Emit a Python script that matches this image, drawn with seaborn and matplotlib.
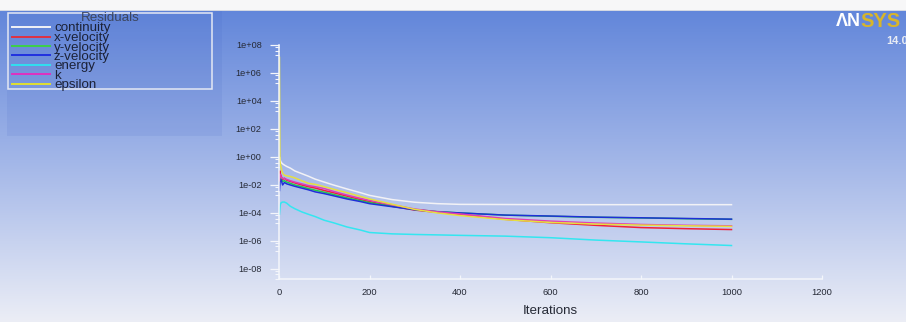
import numpy as np
import pandas as pd
import matplotlib
matplotlib.use("Agg")
import matplotlib.pyplot as plt
from matplotlib.patches import Rectangle
from matplotlib.lines import Line2D
import seaborn as sns

# ---- solver residual history ----
iterations = [1, 2, 3, 5, 8, 12, 17, 25, 35, 50, 65, 80, 100, 120, 150, 180,
              200, 250, 300, 350, 400, 500, 600, 700, 800, 900, 1000]

continuity = [1.0, 0.9, 0.55, 0.4, 0.32, 0.26, 0.21, 0.16, 0.1, 0.065, 0.042,
              0.026, 0.016, 0.01, 0.0052, 0.0028, 0.0018, 9e-4, 5.8e-4, 4.6e-4,
              4.1e-4, 4.0e-4, 3.9e-4, 3.9e-4, 3.9e-4, 3.9e-4, 3.9e-4]
x_velocity = [0.03, 0.1, 0.06, 0.04, 0.025, 0.03, 0.022, 0.018, 0.014, 0.01,
              0.0075, 0.006, 0.004, 0.0028, 0.0016, 9e-4, 6.5e-4, 3e-4, 1.6e-4,
              1.1e-4, 8e-5, 3.5e-5, 2e-5, 1.3e-5, 9e-6, 7.5e-6, 6.5e-6]
y_velocity = [0.01, 0.04, 0.03, 0.025, 0.018, 0.02, 0.016, 0.013, 0.01, 0.0075,
              0.0055, 0.0042, 0.003, 0.0021, 0.0012, 7.5e-4, 5.5e-4, 3e-4,
              1.75e-4, 1.25e-4, 1.0e-4, 7e-5, 5.8e-5, 4.9e-5, 4.4e-5, 3.9e-5, 3.5e-5]
z_velocity = [0.004, 0.015, 0.025, 0.022, 0.01, 0.015, 0.012, 0.01, 0.008, 0.006,
              0.0045, 0.0032, 0.0024, 0.0017, 0.001, 6.5e-4, 4.6e-4, 2.8e-4,
              1.7e-4, 1.2e-4, 1.0e-4, 7e-5, 6e-5, 5e-5, 4.5e-5, 4e-5, 3.6e-5]
energy = [8e-5, 2e-4, 4e-4, 5.5e-4, 6e-4, 6e-4, 5e-4, 3e-4, 2e-4, 1.2e-4, 8e-5,
          5.5e-5, 3e-5, 2e-5, 1e-5, 6e-6, 4e-6, 3.2e-6, 2.9e-6, 2.7e-6, 2.5e-6,
          2.2e-6, 1.7e-6, 1.15e-6, 8.5e-7, 6.2e-7, 4.7e-7]
k = [0.02, 0.06, 0.05, 0.035, 0.03, 0.028, 0.025, 0.02, 0.016, 0.012, 0.009,
     0.0075, 0.0055, 0.0035, 0.0019, 0.0011, 8e-4, 3.8e-4, 1.9e-4, 1.2e-4,
     8.5e-5, 4e-5, 2.6e-5, 1.9e-5, 1.5e-5, 1.3e-5, 1.2e-5]
epsilon = [1.3e7, 0.5, 0.3, 0.15, 0.07, 0.05, 0.045, 0.04, 0.032, 0.02, 0.013,
           0.011, 0.0075, 0.005, 0.0028, 0.0015, 0.001, 4.2e-4, 1.8e-4, 1e-4,
           6.5e-5, 3.3e-5, 2.1e-5, 1.6e-5, 1.35e-5, 1.2e-5, 1.1e-5]

series_names = ["continuity", "x-velocity", "y-velocity", "z-velocity",
                "energy", "k", "epsilon"]
series_values = [continuity, x_velocity, y_velocity, z_velocity, energy, k, epsilon]
line_colors = ["#f2f2f6", "#f0203a", "#22c84a", "#1f2fd8", "#34e6f0", "#e03cb8", "#e6e040"]
legend_colors = ["#f2f2f6", "#e03040", "#3cd048", "#2030e0", "#30e0f0", "#e030c0", "#e0e030"]

x_ticks = [0, 200, 400, 600, 800, 1000, 1200]
y_exponents = [-8, -6, -4, -2, 0, 2, 4, 6, 8]
y_tick_labels = ["1e-08", "1e-06", "1e-04", "1e-02", "1e+00",
                 "1e+02", "1e+04", "1e+06", "1e+08"]

frames = [pd.DataFrame({"Iterations": iterations, "residual": vals, "series": name})
          for name, vals in zip(series_names, series_values)]
df = pd.concat(frames, ignore_index=True)

W, H = 906, 322
fig = plt.figure(figsize=(W / 100, H / 100), dpi=100)

# ---- graphics window background ----
bg = fig.add_axes([0, 0, 1, 1])
bg.set_xlim(0, W)
bg.set_ylim(H, 0)
bg.set_axis_off()
stops_y = [10, 160, 322]
stops_c = np.array([[98, 134, 218], [162, 182, 232], [236, 238, 246]]) / 255.0
rows = np.arange(H)
grad = np.stack([np.interp(rows, stops_y, stops_c[:, i]) for i in range(3)], axis=1)
img = np.repeat(grad[:, None, :], 2, axis=1)
bg.imshow(img, extent=[0, W, H, 0], aspect="auto", interpolation="bilinear")
bg.add_patch(Rectangle((0, 0), W, 10, color="#f7f7f8", lw=0))
bg.add_patch(Rectangle((0, 10), W, 1, color="#d4d8e2", lw=0))
bg.add_patch(Rectangle((7, 11), 215, 125, color="#3a5cc0", alpha=0.10, lw=0))

# legend box
bg.add_patch(Rectangle((8, 13), 204, 76, fill=False, edgecolor="#e4e8f4", lw=1.1))
bg.text(110, 18, "Residuals", ha="center", va="center", fontsize=9.6,
        color="#3c4660", family="Liberation Sans")
legend_y = [26.7, 36.5, 46.3, 55.3, 64.8, 74.2, 83.5]
for name, col, ly in zip(series_names, legend_colors, legend_y):
    bg.add_line(Line2D([12, 50], [ly, ly], color=col, lw=1.4))
    bg.text(54, ly + 1.5, name, ha="left", va="center", fontsize=9.6,
            color="#1c2238", family="Liberation Sans")

# logo
bg.text(836, 21, "ΛN", ha="left", va="center", fontsize=13, fontweight="bold",
        color="#ffffff", family="Liberation Sans")
bg.text(860, 21, "SYS", ha="left", va="center", fontsize=14.5, fontweight="bold",
        color="#d8b52a", family="Liberation Sans")
bg.text(886, 41, "14.0", ha="left", va="center", fontsize=8, fontweight="bold",
        color="#e8ecf4", family="Liberation Sans")

# ---- residual plot ----
left, right = 279 / W, 822 / W
bottom, top = 1 - 278.7 / H, 1 - 45 / H
ax = fig.add_axes([left, bottom, right - left, top - bottom])
ax.set_facecolor("none")

sns.lineplot(data=df, x="Iterations", y="residual", hue="series",
             hue_order=series_names, palette=dict(zip(series_names, line_colors)),
             sort=False, estimator=None, legend=False, lw=1.1, ax=ax)

ax.set_yscale("log")
ax.set_xlim(0, 1200)
ax.set_ylim(1e-8, 1e8)
ax.set_xticks(x_ticks)
ax.set_xticklabels([str(t) for t in x_ticks])
ax.set_yticks([10.0 ** e for e in y_exponents])
ax.set_yticklabels(y_tick_labels)
ax.set_yticks([m * 10.0 ** e for e in y_exponents for m in (0.7, 0.4, 0.2)], minor=True)
ax.set_xticks([], minor=True)

for side in ("top", "right"):
    ax.spines[side].set_visible(False)
for side in ("left", "bottom"):
    ax.spines[side].set_color("#f4f6fb")
    ax.spines[side].set_linewidth(1.1)

ax.tick_params(axis="y", which="major", direction="out", length=6.5, width=0.9,
               color="#f4f6fb", pad=6, labelsize=6.6, labelcolor="#262a36")
ax.tick_params(axis="y", which="minor", direction="out", length=3, width=0.8,
               color="#f4f6fb")
ax.tick_params(axis="x", which="major", direction="in", length=3, width=0.9,
               color="#f4f6fb", pad=6.5, labelsize=6.7, labelcolor="#262a36")
for lbl in ax.get_xticklabels() + ax.get_yticklabels():
    lbl.set_family("Liberation Sans")

ax.set_ylabel("")
ax.set_xlabel("Iterations", fontsize=9.6, color="#262a36", family="Liberation Sans",
              labelpad=6)

fig.savefig("out.png", dpi=100)
